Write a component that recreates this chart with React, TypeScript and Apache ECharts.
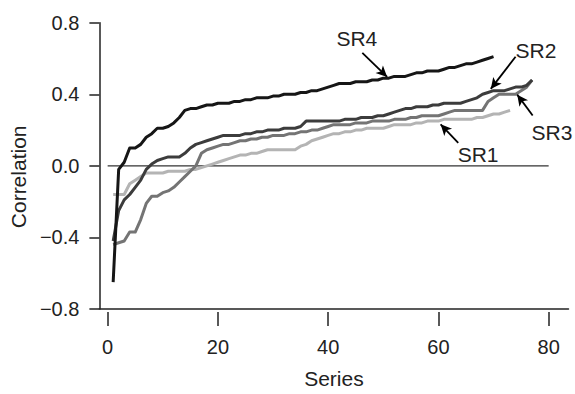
import React, { useEffect, useRef } from "react";
import * as echarts from "echarts";

const FONT = "'Liberation Sans', Arial, Helvetica, sans-serif";
const TEXT = "#222222";

const xTicks = [0, 20, 40, 60, 80];
const yTicks = [-0.8, -0.4, 0.0, 0.4, 0.8];

const sr4 = [
  -0.65, -0.02, 0.02, 0.10, 0.10, 0.12, 0.16, 0.18, 0.21, 0.21,
  0.22, 0.24, 0.27, 0.31, 0.32, 0.32, 0.33, 0.34, 0.34, 0.35,
  0.35, 0.35, 0.36, 0.36, 0.37, 0.37, 0.38, 0.38, 0.38, 0.39,
  0.39, 0.40, 0.40, 0.40, 0.41, 0.41, 0.42, 0.42, 0.43, 0.44,
  0.45, 0.46, 0.46, 0.46, 0.47, 0.47, 0.47, 0.48, 0.48, 0.49,
  0.49, 0.50, 0.50, 0.50, 0.51, 0.52, 0.52, 0.53, 0.53, 0.53,
  0.54, 0.55, 0.55, 0.56, 0.57, 0.57, 0.58, 0.59, 0.60, 0.61,
];

const sr2 = [
  -0.42, -0.25, -0.19, -0.16, -0.12, -0.08, -0.02, 0.01, 0.03, 0.04,
  0.05, 0.05, 0.05, 0.07, 0.10, 0.12, 0.13, 0.14, 0.15, 0.16,
  0.17, 0.17, 0.17, 0.17, 0.18, 0.18, 0.19, 0.19, 0.20, 0.20,
  0.20, 0.21, 0.21, 0.21, 0.22, 0.25, 0.25, 0.25, 0.25, 0.25,
  0.25, 0.25, 0.26, 0.26, 0.26, 0.27, 0.27, 0.27, 0.28, 0.28,
  0.29, 0.30, 0.31, 0.32, 0.32, 0.33, 0.33, 0.33, 0.34, 0.34,
  0.35, 0.35, 0.35, 0.35, 0.36, 0.37, 0.38, 0.40, 0.41, 0.42,
  0.42, 0.42, 0.43, 0.44, 0.44, 0.45, 0.48,
];

const sr3 = [
  -0.44, -0.43, -0.42, -0.37, -0.37, -0.30, -0.21, -0.17, -0.17, -0.15,
  -0.14, -0.12, -0.09, -0.06, -0.03, 0.00, 0.07, 0.09, 0.10, 0.11,
  0.12, 0.12, 0.13, 0.14, 0.14, 0.15, 0.15, 0.16, 0.16, 0.17,
  0.17, 0.17, 0.18, 0.18, 0.19, 0.19, 0.20, 0.20, 0.21, 0.22,
  0.23, 0.23, 0.23, 0.23, 0.24, 0.24, 0.24, 0.25, 0.25, 0.25,
  0.25, 0.26, 0.26, 0.26, 0.27, 0.27, 0.28, 0.28, 0.28, 0.28,
  0.29, 0.30, 0.31, 0.31, 0.31, 0.31, 0.31, 0.31, 0.36, 0.38,
  0.40, 0.40, 0.40, 0.40, 0.42, 0.44, 0.48,
];

const sr1 = [
  -0.16, -0.16, -0.16, -0.10, -0.08, -0.06, -0.04, -0.04, -0.04, -0.04,
  -0.03, -0.03, -0.03, -0.03, -0.02, -0.02, -0.01, 0.00, 0.01, 0.02,
  0.03, 0.04, 0.05, 0.06, 0.06, 0.07, 0.07, 0.08, 0.09, 0.09,
  0.09, 0.09, 0.09, 0.09, 0.11, 0.12, 0.14, 0.15, 0.16, 0.17,
  0.18, 0.18, 0.19, 0.19, 0.20, 0.20, 0.21, 0.21, 0.21, 0.21,
  0.22, 0.23, 0.23, 0.23, 0.23, 0.24, 0.24, 0.25, 0.25, 0.25,
  0.26, 0.26, 0.26, 0.26, 0.26, 0.26, 0.27, 0.27, 0.28, 0.29,
  0.29, 0.30, 0.31,
];

const zeroLine = [
  [0, 0],
  [80, 0],
];

// annotation anchors in data units: label position, arrow start, arrow tip
const annotations = [
  { name: "SR4", text: [45.2, 0.71], from: [46.2, 0.631], to: [50.7, 0.497] },
  { name: "SR2", text: [77.7, 0.645], from: [74.0, 0.61], to: [69.5, 0.43] },
  { name: "SR3", text: [80.6, 0.187], from: [77.1, 0.281], to: [74.3, 0.398] },
  { name: "SR1", text: [67.2, 0.064], from: [63.6, 0.128], to: [60.4, 0.232] },
];

function toPoints(values: number[]) {
  return values.map((v, i) => [i + 1, v]);
}

function annotationFor(name: string) {
  const a = annotations.find((d) => d.name === name)!;
  return {
    markLine: {
      silent: true,
      symbol: ["none", "arrow"],
      symbolSize: [8, 11],
      lineStyle: { color: "#000000", width: 1.8, type: "solid" },
      label: { show: false },
      emphasis: { disabled: true },
      data: [[{ coord: a.from }, { coord: a.to }]],
    },
    markPoint: {
      silent: true,
      symbol: "circle",
      symbolSize: 1,
      itemStyle: { color: "rgba(0,0,0,0)" },
      label: {
        show: true,
        position: "inside",
        formatter: a.name,
        color: TEXT,
        fontFamily: FONT,
        fontSize: 21,
      },
      data: [{ coord: a.text, value: a.name }],
    },
  };
}

export default function App() {
  const ref = useRef<HTMLDivElement>(null);

  useEffect(() => {
    if (!ref.current) return;
    const chart = echarts.init(ref.current, undefined, { renderer: "svg" });

    const lineSeries = (name: string, values: number[], color: string, z: number) => ({
      type: "line",
      name,
      data: toPoints(values),
      showSymbol: false,
      symbol: "none",
      lineStyle: { color, width: 3, join: "round" },
      itemStyle: { color },
      z,
      silent: true,
      ...annotationFor(name),
    });

    chart.setOption({
      animation: false,
      backgroundColor: "#ffffff",
      grid: { left: 95, right: 6.5, top: 22.7, bottom: 79, containLabel: false },
      xAxis: [
        {
          type: "value",
          min: -1.5,
          max: 83.6,
          axisLine: { show: true, onZero: false, lineStyle: { color: "#222222", width: 1.5 } },
          axisTick: { show: false },
          axisLabel: { show: false },
          splitLine: { show: false },
          name: "Series",
          nameLocation: "middle",
          nameGap: 59,
          nameTextStyle: { color: TEXT, fontFamily: FONT, fontSize: 21 },
        },
        {
          type: "value",
          min: -1.5,
          max: 83.6,
          position: "bottom",
          offset: 3,
          axisLine: { show: false, onZero: false },
          axisTick: {
            show: true,
            length: 14,
            customValues: xTicks,
            lineStyle: { color: "#222222", width: 1.5 },
          },
          axisLabel: {
            show: true,
            customValues: xTicks,
            margin: 25,
            color: TEXT,
            fontFamily: FONT,
            fontSize: 20,
          },
          splitLine: { show: false },
        },
      ],
      yAxis: {
        type: "value",
        min: -0.8,
        max: 0.8,
        interval: 0.4,
        axisLine: { show: true, onZero: false, lineStyle: { color: "#222222", width: 1.5 } },
        axisTick: { show: true, length: 10, lineStyle: { color: "#222222", width: 1.5 } },
        axisLabel: {
          margin: 20,
          color: TEXT,
          fontFamily: FONT,
          fontSize: 20,
          customValues: yTicks,
          formatter: (v: number) => {
            const s = Math.abs(v) < 1e-9 ? "0.0" : v.toFixed(1);
            return s.replace("-", "\u2212");
          },
        },
        splitLine: { show: false },
        name: "Correlation",
        nameLocation: "middle",
        nameGap: 64,
        nameRotate: 90,
        nameTextStyle: {
          color: TEXT,
          fontFamily: FONT,
          fontSize: 21,
          padding: [0, 22, 0, 0],
        },
      },
      series: [
        {
          type: "line",
          name: "zero",
          data: zeroLine,
          showSymbol: false,
          symbol: "none",
          lineStyle: { color: "#333333", width: 1.3 },
          z: 1,
          silent: true,
        },
        lineSeries("SR1", sr1, "#b4b4b4", 2),
        lineSeries("SR3", sr3, "#747474", 3),
        lineSeries("SR2", sr2, "#3c3c3c", 4),
        lineSeries("SR4", sr4, "#161616", 5),
      ],
    });

    return () => chart.dispose();
  }, []);

  return (
    <div
      ref={ref}
      style={{ position: "fixed", left: 0, top: 0, width: 575, height: 394, background: "#fff" }}
    />
  );
}
